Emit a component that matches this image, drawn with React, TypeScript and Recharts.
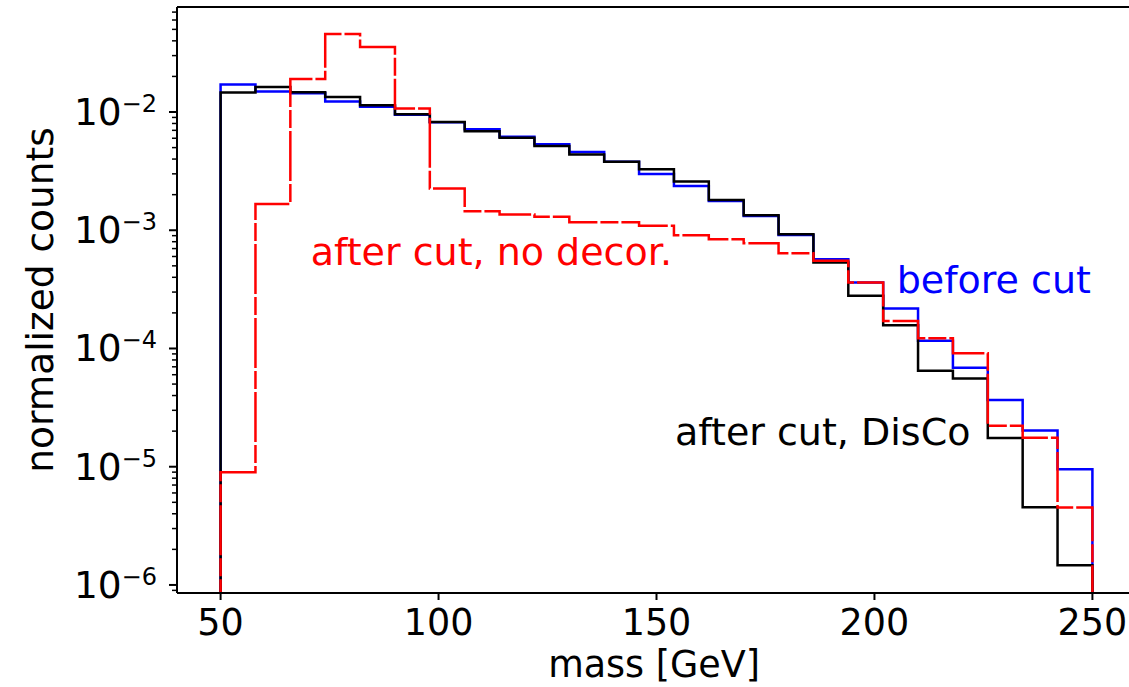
import { ComposedChart, Line, XAxis, YAxis, ReferenceLine } from 'recharts';

/**
 * Normalized mass histograms (log scale) before and after a cut,
 * with and without decorrelation. Drawn as step lines.
 */

const binEdges = [
  50, 58, 66, 74, 82, 90, 98, 106, 114, 122, 130, 138, 146,
  154, 162, 170, 178, 186, 194, 202, 210, 218, 226, 234, 242, 250,
];

// before cut (blue)
const beforeCut = [
  0.0171, 0.0149, 0.0144, 0.0123, 0.0111, 0.0095, 0.0082, 0.00714, 0.00619,
  0.00533, 0.00459, 0.0038, 0.00299, 0.00237, 0.00177, 0.00132, 0.00091,
  0.000569, 0.000361, 0.000218, 0.000116, 6.86e-5, 3.66e-5, 2.02e-5, 9.5e-6,
];

// after cut, DisCo (black)
const afterDisco = [
  0.0146, 0.0163, 0.0147, 0.0134, 0.0114, 0.00957, 0.00822, 0.00687, 0.00607,
  0.00516, 0.00438, 0.0038, 0.00328, 0.00258, 0.0018, 0.00134, 0.000925,
  0.000533, 0.000279, 0.000157, 6.47e-5, 5.57e-5, 1.75e-5, 4.55e-6, 1.47e-6,
];

// after cut, no decorrelation (red, dashed)
const afterNoDecor = [
  9.0e-6, 0.00167, 0.019, 0.0456, 0.0354, 0.0107, 0.00225, 0.00145, 0.00136,
  0.0013, 0.00117, 0.00117, 0.00109, 0.000908, 0.00084, 0.000777, 0.00064,
  0.000551, 0.000361, 0.000171, 0.000122, 9.12e-5, 2.22e-5, 1.76e-5, 4.53e-6,
];

const xTicks = [50, 100, 150, 200, 250];
const yMajorTicks = [1e-6, 1e-5, 1e-4, 1e-3, 1e-2];
const yDomain: [number, number] = [8.55e-7, 0.0773];
const FLOOR = 1e-7; // histogram drops to "zero" below the plot

const FONT = 'DejaVu Sans';
const PLOT_LEFT = 177;
const PLOT_TOP = 7;
const PLOT_BOTTOM = 593;

// step rows: start from floor at the first edge, end back at floor at the last edge
const rows: Array<{ m: number; before: number; disco: number; nodecor: number }> = [];
rows.push({ m: binEdges[0], before: FLOOR, disco: FLOOR, nodecor: FLOOR });
beforeCut.forEach((_, i) => {
  rows.push({ m: binEdges[i], before: beforeCut[i], disco: afterDisco[i], nodecor: afterNoDecor[i] });
});
rows.push({ m: binEdges[binEdges.length - 1], before: FLOOR, disco: FLOOR, nodecor: FLOOR });

// major + minor log ticks inside the domain
const yTicks: number[] = [];
for (let e = -7; e <= -1; e++) {
  for (let k = 1; k <= 9; k++) {
    const v = k * Math.pow(10, e);
    if (v >= yDomain[0] && v <= yDomain[1]) yTicks.push(v);
  }
}

function YTick({ y, payload }: { y?: number; payload?: { value: number } }) {
  if (y == null || !payload) return null;
  const lg = Math.log10(payload.value);
  const e = Math.round(lg);
  const major = Math.abs(lg - e) < 1e-6 && yMajorTicks.some((t) => Math.abs(Math.log10(t) - lg) < 1e-6);
  if (!major) {
    return <line x1={PLOT_LEFT - 5} x2={PLOT_LEFT} y1={y} y2={y} stroke="#000" strokeWidth={1.5} />;
  }
  return (
    <g>
      <line x1={PLOT_LEFT - 8} x2={PLOT_LEFT} y1={y} y2={y} stroke="#000" strokeWidth={2} />
      <text x={157} y={y + 13} textAnchor="end" fontSize={37.5} fontFamily={FONT} fill="#000">
        10
        <tspan dy={-13} fontSize={24}>{'\u2212' + Math.abs(e)}</tspan>
      </text>
    </g>
  );
}

function XTick({ x, payload }: { x?: number; payload?: { value: number } }) {
  if (x == null || !payload) return null;
  return (
    <g>
      <line x1={x} x2={x} y1={PLOT_BOTTOM} y2={PLOT_BOTTOM + 7} stroke="#000" strokeWidth={2} />
      <text x={x} y={635} textAnchor="middle" fontSize={36.5} fontFamily={FONT} fill="#000">
        {payload.value}
      </text>
    </g>
  );
}

export default function App() {
  return (
    <div
      style={{
        position: 'absolute',
        left: 0,
        top: 0,
        width: 1129,
        height: 687,
        overflow: 'hidden',
        background: '#fff',
        fontFamily: FONT,
      }}
    >
      <ComposedChart
        width={1146}
        height={687}
        data={rows}
        margin={{ top: PLOT_TOP, right: 10, left: 0, bottom: 0 }}
      >
        <XAxis
          dataKey="m"
          type="number"
          domain={[40, 260]}
          ticks={xTicks}
          interval={0}
          height={687 - PLOT_BOTTOM}
          tick={<XTick />}
          tickLine={false}
          axisLine={{ stroke: '#000', strokeWidth: 2 }}
          allowDataOverflow
        />
        <YAxis
          type="number"
          scale="log"
          domain={yDomain}
          ticks={yTicks}
          interval={0}
          width={PLOT_LEFT}
          tick={<YTick />}
          tickLine={false}
          axisLine={{ stroke: '#000', strokeWidth: 2 }}
          allowDataOverflow
        />
        <ReferenceLine y={yDomain[1]} stroke="#000" strokeWidth={2} />
        <Line
          type="stepAfter"
          dataKey="before"
          stroke="#0000ff"
          strokeWidth={2.5}
          dot={false}
          activeDot={false}
          isAnimationActive={false}
        />
        <Line
          type="stepAfter"
          dataKey="disco"
          stroke="#000000"
          strokeWidth={2.5}
          dot={false}
          activeDot={false}
          isAnimationActive={false}
        />
        <Line
          type="stepAfter"
          dataKey="nodecor"
          stroke="#ff0000"
          strokeWidth={2.5}
          strokeDasharray="50 3 18 3"
          dot={false}
          activeDot={false}
          isAnimationActive={false}
        />
      </ComposedChart>

      {/* annotations and axis titles */}
      <svg
        width={1129}
        height={687}
        style={{ position: 'absolute', left: 0, top: 0, pointerEvents: 'none' }}
      >
        <text x={310.7} y={265} fontSize={38} fontFamily={FONT} fill="#ff0000">
          after cut, no decor.
        </text>
        <text x={896.7} y={292.7} fontSize={38} fontFamily={FONT} fill="#0000ff">
          before cut
        </text>
        <text x={675} y={445} fontSize={38} fontFamily={FONT} fill="#000">
          after cut, DisCo
        </text>
        <text x={654} y={677} textAnchor="middle" fontSize={36.5} fontFamily={FONT} fill="#000">
          mass [GeV]
        </text>
        <text
          transform="translate(53, 300) rotate(-90)"
          textAnchor="middle"
          fontSize={37.5}
          fontFamily={FONT}
          fill="#000"
        >
          normalized counts
        </text>
      </svg>
    </div>
  );
}
